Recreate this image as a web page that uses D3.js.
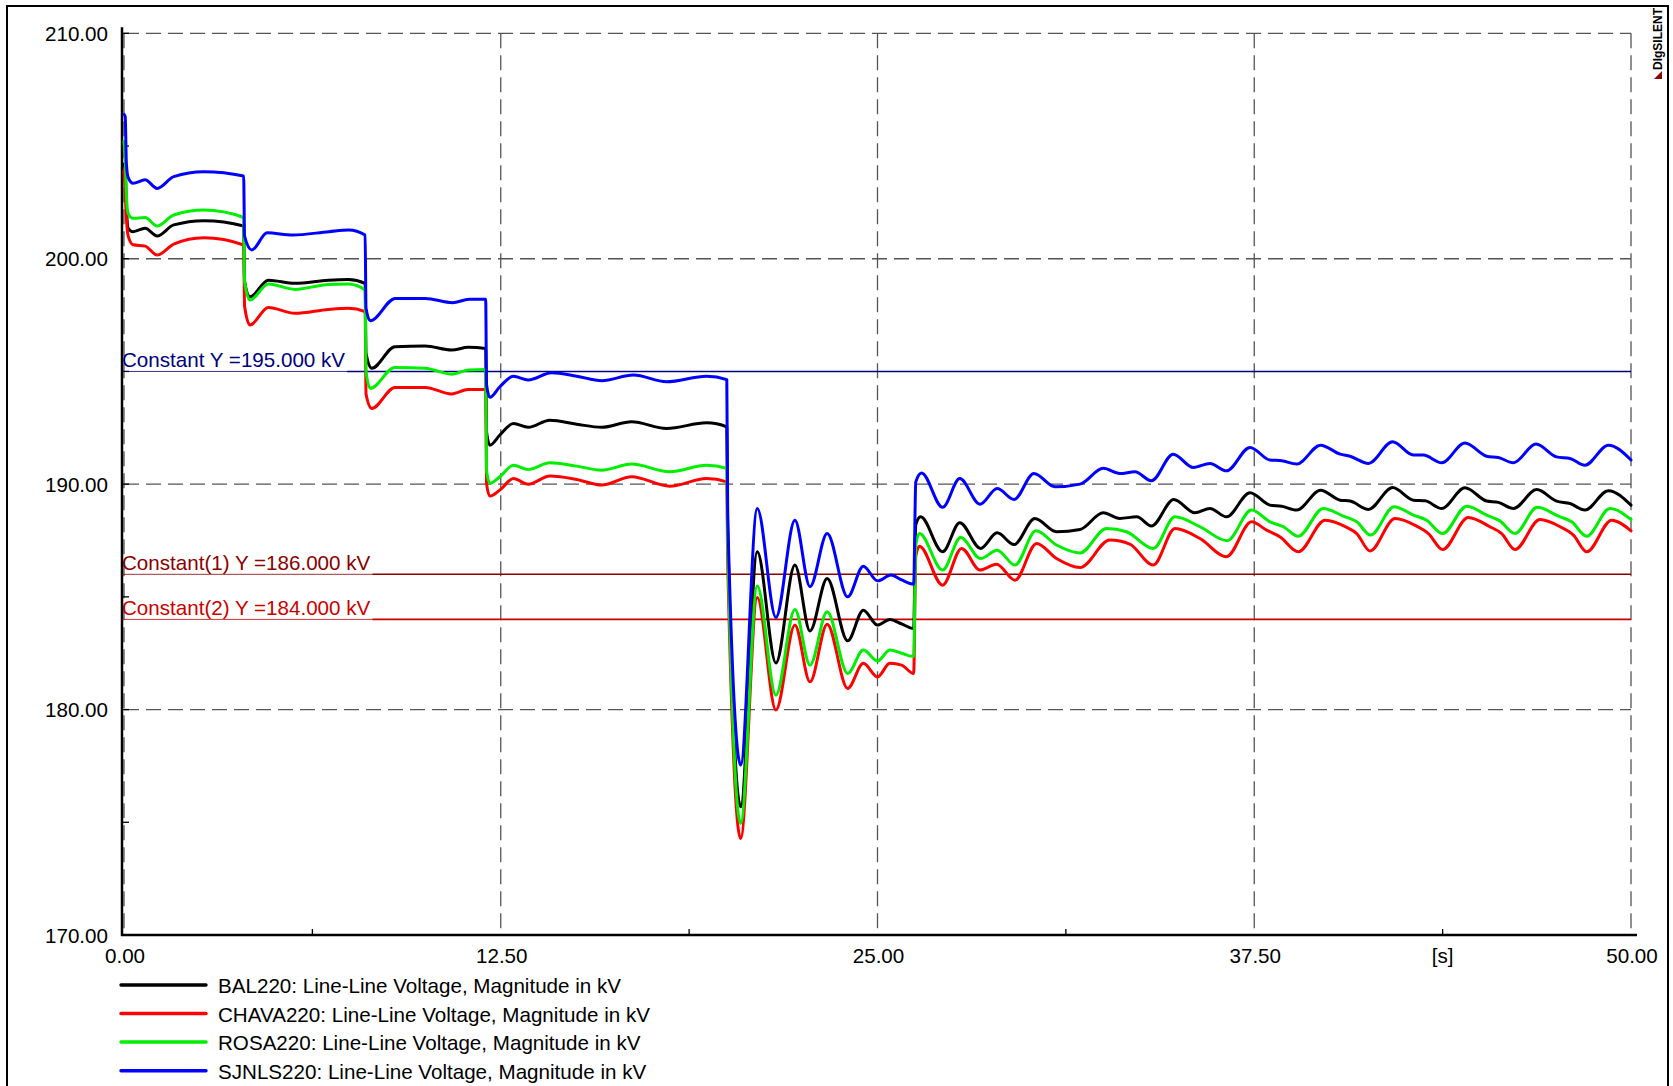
<!DOCTYPE html>
<html><head><meta charset="utf-8">
<script src="https://cdn.jsdelivr.net/npm/d3@7"></script>
<style>
html,body{margin:0;padding:0;background:#fff;}
text{font-family:"Liberation Sans",Arial,Helvetica,sans-serif;}
</style></head>
<body>
<svg id="chart" width="1673" height="1086"></svg>
<script>
// ---------- DATA ----------
const xTicksMajor = [0, 12.5, 25, 37.5, 50];
const xTicksMinor = [6.25, 18.75, 31.25, 43.75];
const yTicksMajor = [170, 180, 190, 200, 210];
const yTicksMinor = [175, 185, 195, 205];
const xUnitLabel = "[s]";
const xUnitPos = 43.75;

const constNames  = ["Constant Y =195.000 kV", "Constant(1) Y =186.000 kV", "Constant(2) Y =184.000 kV"];
const constValues = [195, 186, 184];
const constColors = ["#000080", "#8b0000", "#cc0000"];

const seriesNames  = ["BAL220: Line-Line Voltage, Magnitude in kV",
                      "CHAVA220: Line-Line Voltage, Magnitude in kV",
                      "ROSA220: Line-Line Voltage, Magnitude in kV",
                      "SJNLS220: Line-Line Voltage, Magnitude in kV"];
const seriesColors = ["#000000", "#ff0000", "#00ee00", "#0000ff"];

const bal220 = [[0,204.2],[0.04,204.0],[0.08,202.3],[0.14,201.35],[0.3,201.2],[0.7,201.35],[1.1,201.01],[1.65,201.5],[2.65,201.69],[3.97,201.45],
[4.0,199.0],[4.18,198.31],[4.79,199.05],[5.67,198.91],[6.78,199.05],[7.44,199.08],[8.0,198.91],
[8.03,195.8],[8.22,195.14],[8.99,196.1],[9.99,196.13],[10.87,195.95],[11.42,196.07],[12.0,196.02],
[12.03,192.3],[12.14,191.73],[12.47,192.18],[12.92,192.69],[13.41,192.52],[14.13,192.84],[15.02,192.66],[15.85,192.52],[16.84,192.77],[18.0,192.47],[19.33,192.72],[20.0,192.54],
[20.03,188.0],[20.46,175.69],[21.01,187.0],[21.63,182.07],[22.26,186.41],[22.76,183.49],[23.33,185.82],[24.01,183.05],[24.53,184.41],[25.0,183.75],[25.41,184.0],[25.8,183.8],[26.2,183.6],
[26.27,188.2],[26.43,188.55],[27.16,187.0],[27.73,188.29],[28.42,187.15],[28.97,187.84],[29.53,187.32],[30.22,188.48],[30.94,187.89],[31.72,187.99],[32.49,188.73],[33.04,188.48],[33.6,188.55],[34.09,188.14],[34.83,189.32],[35.53,188.73],[36.03,188.92],[36.58,188.55],[37.36,189.62],[38.02,189.07],[38.41,189.02],[38.91,188.85],[39.7,189.73],[40.35,189.29],[40.68,189.25],[41.29,188.88],[42.09,189.85],[42.78,189.29],[43.17,189.26],[43.72,188.92],[44.49,189.84],[45.21,189.25],[45.6,189.19],[46.1,188.92],[46.87,189.76],[47.53,189.25],[47.98,189.14],[48.47,188.85],[49.25,189.71],[50,189.07]];

const chava220 = [[0,203.9],[0.04,203.0],[0.08,201.8],[0.14,201.0],[0.3,200.62],[0.7,200.56],[1.1,200.16],[1.65,200.65],[2.65,200.93],[3.97,200.61],
[4.0,197.9],[4.18,197.06],[4.79,197.84],[5.67,197.58],[6.78,197.75],[7.44,197.8],[8.0,197.65],
[8.03,194.0],[8.22,193.36],[8.99,194.29],[9.99,194.29],[10.87,194.0],[11.42,194.2],[12.0,194.2],
[12.03,190.0],[12.14,189.47],[12.47,189.74],[12.92,190.25],[13.41,190.0],[14.13,190.36],[15.02,190.21],[15.85,189.96],[16.84,190.33],[18.1,189.91],[19.33,190.25],[20.0,190.1],
[20.03,186.5],[20.46,174.28],[21.01,184.97],[21.63,179.98],[22.26,183.75],[22.76,181.23],[23.33,183.79],[24.01,180.94],[24.53,182.05],[25.0,181.45],[25.41,182.05],[25.8,181.97],[26.2,181.6],
[26.27,186.8],[26.39,187.25],[27.16,185.52],[27.79,187.15],[28.4,186.19],[28.95,186.45],[29.56,185.74],[30.28,187.37],[30.94,186.7],[31.72,186.3],[32.71,187.52],[33.37,187.34],[34.15,186.41],[34.87,188.03],[35.7,187.59],[36.58,186.78],[37.41,188.33],[37.91,187.96],[38.36,187.66],[38.96,187.0],[39.85,188.4],[40.57,188.08],[40.9,187.81],[41.34,187.04],[42.17,188.48],[42.89,188.14],[43.28,187.81],[43.75,187.1],[44.6,188.52],[45.32,188.11],[45.71,187.81],[46.15,187.1],[46.98,188.43],[47.65,188.11],[48.09,187.74],[48.53,187.0],[49.36,188.4],[50,187.93]];

const rosa220 = [[0,205.2],[0.04,204.5],[0.08,202.8],[0.14,202.0],[0.3,201.79],[0.7,201.83],[1.1,201.45],[1.65,201.94],[2.65,202.16],[3.97,201.83],
[4.0,199.0],[4.18,198.17],[4.79,198.88],[5.67,198.64],[6.78,198.86],[7.44,198.88],[8.0,198.61],
[8.03,195.0],[8.17,194.25],[8.99,195.18],[9.99,195.14],[10.87,194.88],[11.42,195.06],[12.0,195.09],
[12.03,190.6],[12.14,190.03],[12.47,190.33],[12.92,190.84],[13.41,190.65],[14.13,190.95],[15.02,190.8],[15.85,190.62],[16.84,190.89],[18.1,190.55],[19.33,190.84],[20.0,190.7],
[20.03,187.5],[20.46,174.95],[21.01,185.48],[21.63,180.64],[22.26,184.44],[22.76,181.97],[23.33,184.34],[24.01,181.6],[24.53,182.64],[25.0,182.16],[25.41,182.64],[25.8,182.5],[26.2,182.35],
[26.27,187.3],[26.39,187.81],[27.16,186.19],[27.76,187.63],[28.42,186.7],[28.97,187.07],[29.56,186.41],[30.26,187.93],[30.94,187.3],[31.72,186.95],[32.6,188.03],[33.26,187.89],[34.15,187.15],[34.87,188.55],[35.7,188.11],[36.6,187.49],[37.41,188.85],[38.02,188.33],[38.47,188.11],[38.96,187.69],[39.79,188.92],[40.46,188.58],[40.9,188.33],[41.36,187.74],[42.14,189.0],[42.78,188.63],[43.22,188.4],[43.75,187.81],[44.55,189.02],[45.21,188.63],[45.65,188.37],[46.15,187.81],[46.89,188.97],[47.59,188.58],[48.03,188.33],[48.53,187.69],[49.3,188.92],[50,188.43]];

const sjnls220 = [[0,206.4],[0.04,206.3],[0.08,204.2],[0.14,203.6],[0.3,203.35],[0.7,203.5],[1.1,203.12],[1.65,203.64],[2.65,203.86],[3.97,203.67],
[4.0,201.0],[4.24,200.39],[4.75,201.15],[5.6,201.05],[6.8,201.2],[7.45,201.27],[8.0,201.05],
[8.03,197.8],[8.17,197.25],[9.0,198.24],[10.0,198.24],[10.9,198.05],[11.45,198.2],[12.0,198.2],
[12.03,194.4],[12.14,193.85],[12.47,194.32],[12.92,194.79],[13.41,194.62],[14.19,194.94],[15.02,194.79],[15.85,194.59],[16.9,194.84],[18.0,194.54],[19.33,194.79],[20.0,194.64],
[20.03,188.6],[20.46,177.54],[21.01,188.92],[21.63,184.09],[22.26,188.4],[22.76,185.45],[23.33,187.81],[24.01,185.0],[24.53,186.36],[25.0,185.71],[25.45,185.97],[25.8,185.75],[26.2,185.56],
[26.27,190.1],[26.46,190.5],[27.16,188.97],[27.73,190.25],[28.4,189.11],[28.97,189.81],[29.53,189.32],[30.19,190.47],[30.89,189.88],[31.72,190.0],[32.49,190.7],[33.04,190.47],[33.54,190.55],[34.09,190.15],[34.81,191.33],[35.48,190.74],[36.03,190.92],[36.58,190.59],[37.36,191.63],[38.02,191.07],[38.41,191.04],[38.91,190.89],[39.7,191.73],[40.35,191.33],[40.68,191.24],[41.29,190.92],[42.09,191.88],[42.78,191.29],[43.11,191.29],[43.72,190.95],[44.49,191.83],[45.21,191.24],[45.6,191.18],[46.1,190.95],[46.85,191.78],[47.53,191.21],[47.98,191.14],[48.47,190.84],[49.25,191.73],[50,191.07]];

const seriesData = [bal220, chava220, rosa220, sjnls220];

// ---------- LAYOUT ----------
const svg = d3.select("#chart");
const x = d3.scaleLinear().domain([0, 50]).range([124, 1631]);
const y = d3.scaleLinear().domain([170, 210]).range([935, 33.3]);
const FONT = 20.6;

// outer frame
svg.append("rect").attr("x", 7).attr("y", 6).attr("width", 1661).attr("height", 1100)
  .attr("fill", "none").attr("stroke", "#000").attr("stroke-width", 2);

// grid lines
const grid = svg.append("g").attr("stroke", "#555").attr("stroke-width", 1.3)
  .attr("stroke-dasharray", "15,7").attr("fill", "none");
yTicksMajor.filter(v => v > 170).forEach(v => {
  grid.append("line").attr("x1", x(0)).attr("x2", x(50)).attr("y1", y(v)).attr("y2", y(v));
});
xTicksMajor.forEach(t => {
  grid.append("line").attr("x1", x(t)).attr("x2", x(t)).attr("y1", y(210)).attr("y2", y(170));
});

// axes
const axisG = svg.append("g");
axisG.append("line").attr("x1", x(0) - 2).attr("x2", x(0) - 2).attr("y1", y(210) - 6).attr("y2", y(170) + 1)
  .attr("stroke", "#000").attr("stroke-width", 2.5);
axisG.append("line").attr("x1", x(0) - 3).attr("x2", x(50) + 6).attr("y1", y(170)).attr("y2", y(170))
  .attr("stroke", "#000").attr("stroke-width", 2.5);

// y ticks
yTicksMajor.concat(yTicksMinor).forEach(v => {
  axisG.append("line").attr("x1", x(0) - 2).attr("x2", x(0) + 5).attr("y1", y(v)).attr("y2", y(v))
    .attr("stroke", "#000").attr("stroke-width", 1.3);
});
// x minor ticks
xTicksMinor.forEach(t => {
  axisG.append("line").attr("x1", x(t)).attr("x2", x(t)).attr("y1", y(170)).attr("y2", y(170) - 6)
    .attr("stroke", "#000").attr("stroke-width", 1.3);
});

const fmt = d3.format(".2f");
yTicksMajor.forEach(v => {
  svg.append("text").attr("x", 108).attr("y", y(v) + 7.5).attr("text-anchor", "end")
    .attr("font-size", FONT).attr("fill", "#000").text(fmt(v));
});
xTicksMajor.forEach(t => {
  svg.append("text").attr("x", x(t) + 1).attr("y", 963).attr("text-anchor", "middle")
    .attr("font-size", FONT).attr("fill", "#000").text(fmt(t));
});
svg.append("text").attr("x", x(xUnitPos)).attr("y", 963).attr("text-anchor", "middle")
  .attr("font-size", FONT).attr("fill", "#000").text(xUnitLabel);

// constant lines with labels
constValues.forEach((v, i) => {
  const g = svg.append("g");
  const lbl = g.append("text").attr("x", x(0) - 2).attr("y", y(v) - 4.5)
    .attr("font-size", FONT).attr("fill", constColors[i]).text(constNames[i]);
  const w = lbl.node().getComputedTextLength();
  g.append("line").attr("x1", x(0) - 2).attr("x2", x(0) + w).attr("y1", y(v)).attr("y2", y(v))
    .attr("stroke", constColors[i]).attr("stroke-width", 1).attr("opacity", 0.8);
  g.append("line").attr("x1", x(0) + w).attr("x2", x(50)).attr("y1", y(v)).attr("y2", y(v))
    .attr("stroke", constColors[i]).attr("stroke-width", 1.6);
});

// series
const line = d3.line().x(d => x(d[0])).y(d => y(d[1])).curve(d3.curveMonotoneX);
seriesData.forEach((data, i) => {
  svg.append("path").datum(data).attr("d", line).attr("fill", "none")
    .attr("stroke", seriesColors[i]).attr("stroke-width", 3)
    .attr("stroke-linejoin", "round").attr("stroke-linecap", "round");
});

// legend
const legendY = [985, 1013.5, 1042, 1070.7];
seriesNames.forEach((name, i) => {
  svg.append("line").attr("x1", 121).attr("x2", 206).attr("y1", legendY[i]).attr("y2", legendY[i])
    .attr("stroke", seriesColors[i]).attr("stroke-width", 3.4).attr("stroke-linecap", "round");
  svg.append("text").attr("x", 218).attr("y", legendY[i] + 8)
    .attr("font-size", FONT).attr("fill", "#000").text(name);
});

// DIgSILENT logo
svg.append("text").attr("transform", "translate(1662,70) rotate(-90)")
  .attr("font-size", 12).attr("font-weight", "bold").attr("fill", "#000").text("DIgSILENT");
svg.append("path").attr("d", "M1654,79 L1662,71 L1662,79 Z").attr("fill", "#8b0000");
</script>
</body></html>
